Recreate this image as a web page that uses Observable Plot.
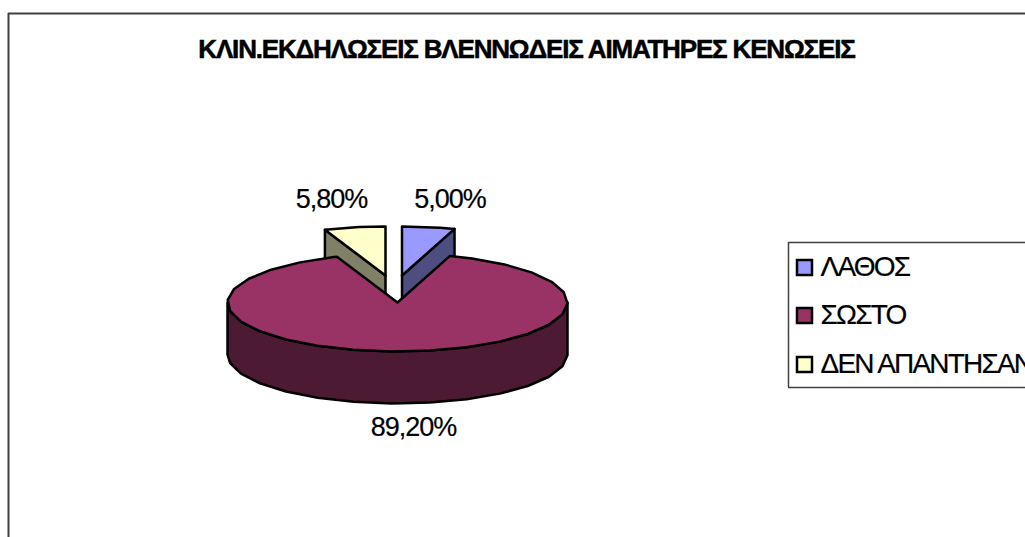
<!DOCTYPE html>
<html>
<head>
<meta charset="utf-8">
<script src="https://cdn.jsdelivr.net/npm/d3@7"></script>
<script src="https://cdn.jsdelivr.net/npm/@observablehq/plot@0.6"></script>
<style>
  html, body { margin: 0; padding: 0; background: #fff; overflow: hidden; }
  .title-text { letter-spacing: -1.17px; stroke: #000; stroke-width: 0.5px; }
  .value-text { letter-spacing: -1px; stroke: #000; stroke-width: 0.2px; }
  .legend-text { letter-spacing: -1.8px; stroke: #000; stroke-width: 0.2px; }
</style>
</head>
<body>
<div id="chart"></div>
<script>
// Survey answers, in percent, clockwise from twelve o'clock
const categories = ["ΛΑΘΟΣ", "ΣΩΣΤΟ", "ΔΕΝ ΑΠΑΝΤΗΣΑΝ"];
const percentages = [5.0, 89.2, 5.8];
const chartTitle = "ΚΛΙΝ.ΕΚΔΗΛΩΣΕΙΣ ΒΛΕΝΝΩΔΕΙΣ ΑΙΜΑΤΗΡΕΣ ΚΕΝΩΣΕΙΣ";

const topColors = ["#9999ff", "#993366", "#ffffcc"];
const wallColors = ["#4d4d80", "#4d1a33", "#808066"];

// Layout of the tilted pie, in chart units
const W = 1025, H = 537;
const radiusX = 170, radiusY = 49, depth = 52;
const centers = [[401.5, 275], [397, 302], [385, 275]];
const facetDegrees = 13;
const labelAnchors = [[449.5, 207], [413, 435], [331, 207]];
const legendBox = {left: 788, top: 242, bottom: 387};
const legendRows = [275, 323, 372];
const swatch = {left: 797, size: 15, gap: 8};
const frame = {left: 8, top: 13};

// Start and end angle of each slice, from the cumulative percentages
const total = d3.sum(percentages);
const slices = categories.map((name, i) => {
  const before = d3.sum(percentages.slice(0, i));
  return {
    name,
    value: percentages[i],
    start: (before / total) * 360,
    end: ((before + percentages[i]) / total) * 360,
    center: centers[i],
    top: topColors[i],
    wall: wallColors[i]
  };
});

const rim = ([cx, cy], deg, drop = 0) => {
  const a = (deg * Math.PI) / 180;
  return {x: cx + radiusX * Math.sin(a), y: cy - radiusY * Math.cos(a) + drop};
};

// Angles along an arc, broken into the short facets of the outline
function arcAngles(from, to) {
  const list = [from];
  for (let a = Math.ceil(from / facetDegrees + 1e-6) * facetDegrees; a < to; a += facetDegrees) list.push(a);
  list.push(to);
  return list;
}

function topFace(s) {
  const [x, y] = s.center;
  return [{x, y}, ...arcAngles(s.start, s.end).map((a) => rim(s.center, a))];
}

// Straight cut wall of a lifted slice, dropped below its radial edge
function cutWall(s, deg) {
  const [x, y] = s.center;
  const edge = rim(s.center, deg);
  return [{x, y}, edge, {x: edge.x, y: edge.y + depth}, {x, y: y + depth}];
}

// Front skirt of the large slice, from its right extreme round to the left
function skirt(s) {
  const angles = arcAngles(90, 270);
  return [
    ...angles.map((a) => rim(s.center, a)),
    ...angles.slice().reverse().map((a) => rim(s.center, a, depth))
  ];
}

const outlined = (points, fill) =>
  Plot.line(points, {x: "x", y: "y", curve: "linear-closed", fill, stroke: "#000", strokeWidth: 2.5, strokeLinejoin: "round"});

const [wrong, right, none] = slices;
const fmt = (v) => v.toFixed(2).replace(".", ",") + "%";

const chart = Plot.plot({
  width: W,
  height: H,
  margin: 0,
  x: {domain: [0, W], range: [0, W], axis: null},
  y: {domain: [0, H], range: [0, H], axis: null},
  marks: [
    // Outer chart border, running off the right and bottom of the page
    Plot.ruleY([frame.top], {x1: frame.left, x2: W, stroke: "#404040", strokeWidth: 2}),
    Plot.ruleX([frame.left], {y1: frame.top, y2: H, stroke: "#404040", strokeWidth: 2}),

    Plot.text([chartTitle], {
      x: () => 526, y: () => 57, text: (d) => d, fontSize: 26, fontWeight: "bold",
      fontFamily: "Liberation Sans", lineAnchor: "bottom", fill: "#000", className: "title-text"
    }),

    // Lifted slices sit behind the large one
    outlined(cutWall(none, none.start), none.wall),
    outlined(topFace(none), none.top),
    outlined(cutWall(wrong, wrong.end), wrong.wall),
    outlined(topFace(wrong), wrong.top),
    outlined(skirt(right), right.wall),
    outlined(topFace(right), right.top),

    Plot.text(slices, {
      x: (d, i) => labelAnchors[i][0], y: (d, i) => labelAnchors[i][1], text: (d) => fmt(d.value),
      fontSize: 27, fontFamily: "Liberation Sans", lineAnchor: "bottom", fill: "#000", className: "value-text"
    }),

    // Legend box, open towards the page edge
    Plot.ruleY([legendBox.top, legendBox.bottom], {x1: legendBox.left, x2: W, stroke: "#404040", strokeWidth: 1.5}),
    Plot.ruleX([legendBox.left], {y1: legendBox.top, y2: legendBox.bottom, stroke: "#404040", strokeWidth: 1.5}),
    Plot.rect(slices, {
      x1: () => swatch.left, x2: () => swatch.left + swatch.size,
      y1: (d, i) => legendRows[i] - swatch.size, y2: (d, i) => legendRows[i],
      fill: "top", stroke: "#000", strokeWidth: 2.5
    }),
    Plot.text(slices, {
      x: () => swatch.left + swatch.size + swatch.gap, y: (d, i) => legendRows[i], text: "name",
      textAnchor: "start", fontSize: 28, fontFamily: "Liberation Sans", lineAnchor: "bottom", fill: "#000",
      className: "legend-text"
    })
  ]
});

document.getElementById("chart").append(chart);
</script>
</body>
</html>
